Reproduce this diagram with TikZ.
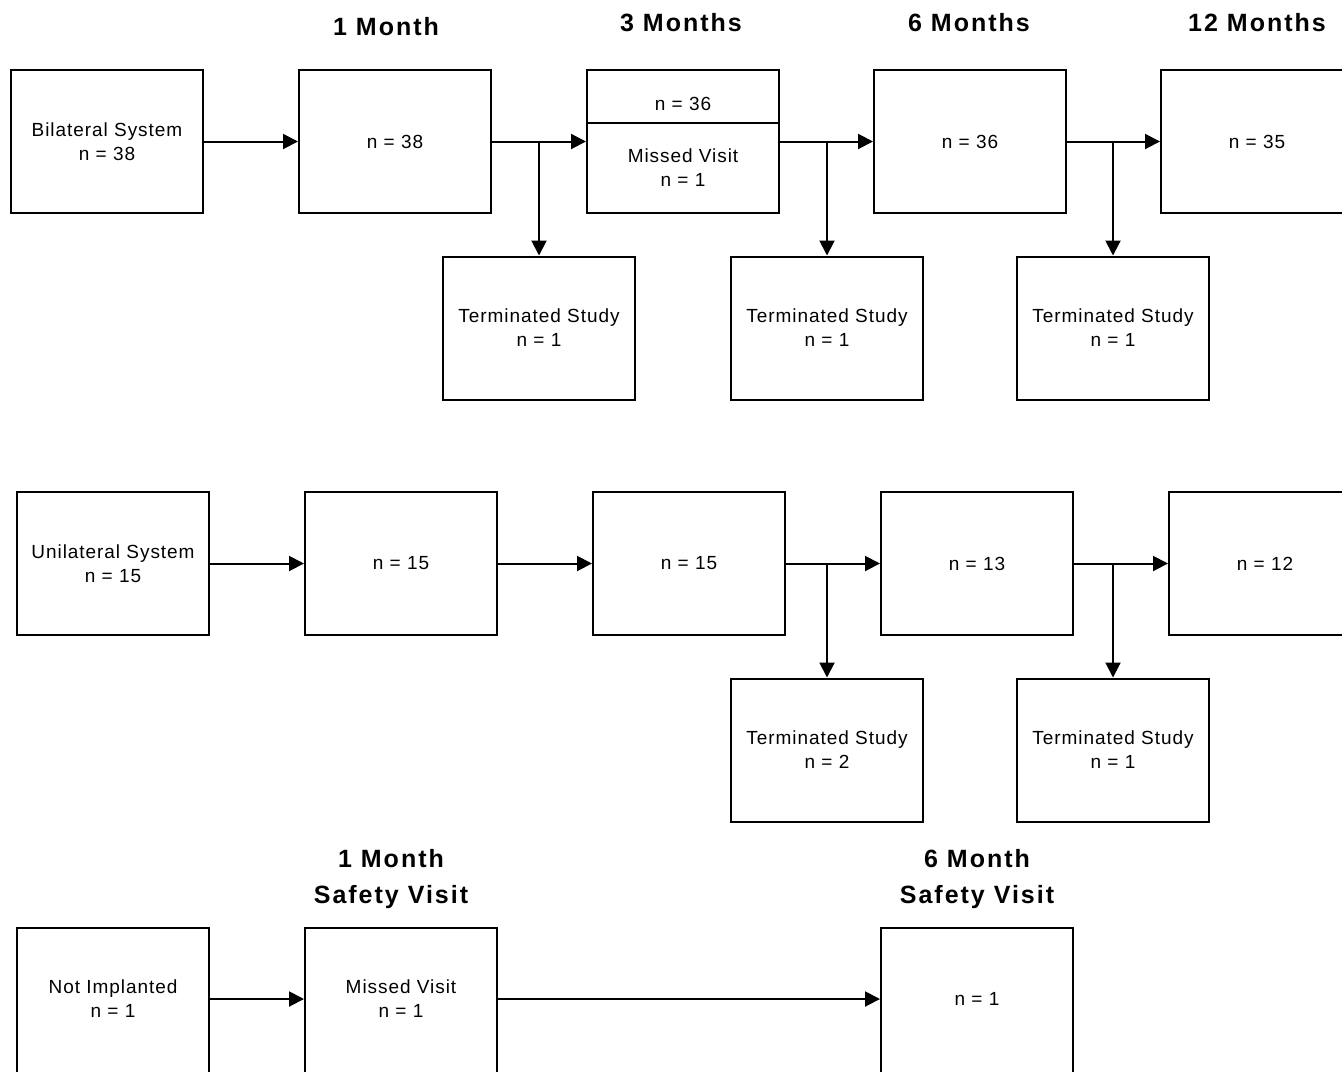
\documentclass[tikz,border=0pt]{standalone}
\usepackage{fontspec}
\setmainfont{Liberation Sans}
\newfontfamily\bodyfont[LetterSpace=5]{Liberation Sans}
\newfontfamily\headfont[LetterSpace=8]{Liberation Sans}
\usetikzlibrary{arrows.meta}
\begin{document}
\begin{tikzpicture}[x=0.5pt,y=-0.5pt,
  box/.style={draw, line width=1pt, minimum width=96pt, minimum height=71.5pt, inner sep=0pt, align=center, font=\bodyfont\fontsize{9.5}{12}\selectfont},
  lowbox/.style={box, minimum height=75pt},
  lbl/.style={inner sep=0pt, align=center, font=\bodyfont\fontsize{9.5}{12}\selectfont},
  hd/.style={inner sep=0pt, align=center, font=\headfont\bfseries\fontsize{12.5}{18}\selectfont},
  arr/.style={line width=1pt, -{Triangle[length=7.5pt,width=7.5pt]}},
  ln/.style={line width=1pt}]
\clip (0,0) rectangle (1342,1071);
\useasboundingbox (0,0) rectangle (1342,1071);
% headers
\node[hd] (h1) at (386,27) {1 Month};
\node[hd] (h2) at (681,23) {3 Months};
\node[hd] (h3) at (969,23) {6 Months};
\node[hd] (h4) at (1257,23) {12 Months};
\node[hd] (s1) at (391,879) {1 Month\\Safety Visit};
\node[hd] (s2) at (977,879) {6 Month\\Safety Visit};
% row 1
\node[box] (B0) at (107,141.5) {Bilateral System\\n = 38};
\node[box] (B1) at (395,141.5) {n = 38};
\node[box] (B2) at (683,141.5) {};
\node[lbl] (B2a) at (683,104) {n = 36};
\node[lbl] (B2b) at (683,168) {Missed Visit\\n = 1};
\draw[ln] ([yshift=-27pt]B2.north west) -- ([yshift=-27pt]B2.north east);
\node[box] (B3) at (970,141.5) {n = 36};
\node[box] (B4) at (1257,141.5) {n = 35};
\node[box] (T1) at (539,328) {Terminated Study\\n = 1};
\node[box] (T2) at (827,328) {Terminated Study\\n = 1};
\node[box] (T3) at (1113,328) {Terminated Study\\n = 1};
\draw[arr] (B0.east) -- (B1.west);
\draw[arr] (B1.east) -- (B2.west);
\draw[arr] (B2.east) -- (B3.west);
\draw[arr] (B3.east) -- (B4.west);
\draw[arr] (B1.east -| T1.north) -- (T1.north);
\draw[arr] (B2.east -| T2.north) -- (T2.north);
\draw[arr] (B3.east -| T3.north) -- (T3.north);
% row 2
\node[box] (U0) at (113,563.5) {Unilateral System\\n = 15};
\node[box] (U1) at (401,563.5) {n = 15};
\node[box] (U2) at (689,563.5) {n = 15};
\node[box] (U3) at (977,563.5) {n = 13};
\node[box] (U4) at (1265,563.5) {n = 12};
\node[box] (T4) at (827,750) {Terminated Study\\n = 2};
\node[box] (T5) at (1113,750) {Terminated Study\\n = 1};
\draw[arr] (U0.east) -- (U1.west);
\draw[arr] (U1.east) -- (U2.west);
\draw[arr] (U2.east) -- (U3.west);
\draw[arr] (U3.east) -- (U4.west);
\draw[arr] (U2.east -| T4.north) -- (T4.north);
\draw[arr] (U3.east -| T5.north) -- (T5.north);
% row 3 (boxes run past the bottom edge)
\node[lowbox] (N0) at (113,1003) {};
\node[lowbox] (N1) at (401,1003) {};
\node[lowbox] (N2) at (977,1003) {};
\node[lbl] (N0t) at (113,999) {Not Implanted\\n = 1};
\node[lbl] (N1t) at (401,999) {Missed Visit\\n = 1};
\node[lbl] (N2t) at (977,999) {n = 1};
\draw[arr] ([yshift=2pt]N0.east) -- ([yshift=2pt]N1.west);
\draw[arr] ([yshift=2pt]N1.east) -- ([yshift=2pt]N2.west);
\end{tikzpicture}
\end{document}
